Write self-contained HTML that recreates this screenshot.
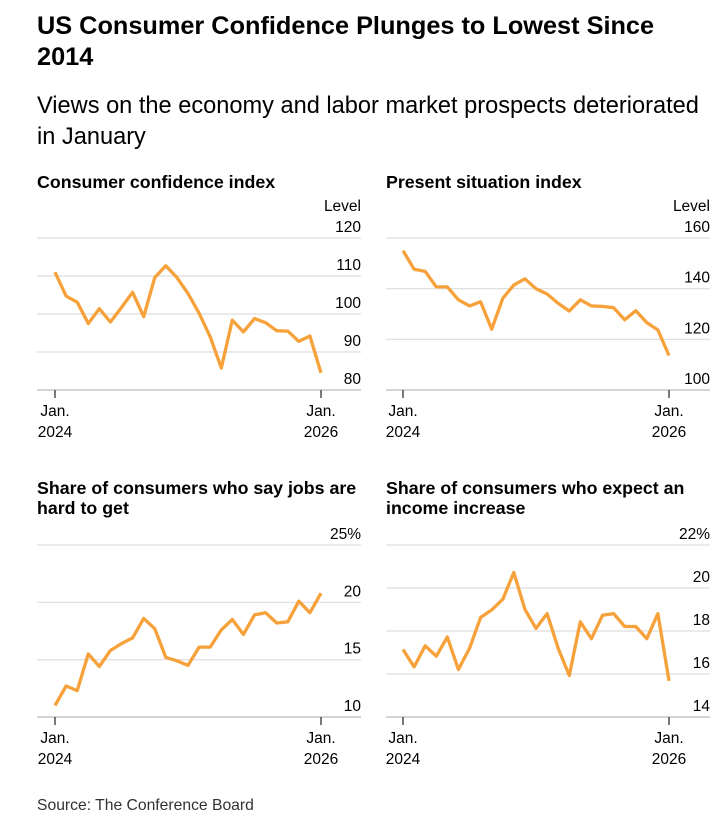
<!DOCTYPE html>
<html><head><meta charset="utf-8"><style>
body{margin:0;background:#fff;width:721px;height:834px;overflow:hidden;font-family:"Liberation Sans",sans-serif;color:#000}
svg{position:absolute;left:0;top:0}
</style></head><body>
<svg width="721" height="834" font-family="Liberation Sans, sans-serif">
<text x="37" y="34" font-size="25.3" font-weight="bold">US Consumer Confidence Plunges to Lowest Since</text>
<text x="37" y="65" font-size="25.3" font-weight="bold">2014</text>
<text x="37" y="113" font-size="23.6">Views on the economy and labor market prospects deteriorated</text>
<text x="37" y="144" font-size="23.6">in January</text>
<text x="37" y="810" font-size="15.7" fill="#333">Source: The Conference Board</text>
<g id="charts"></g>
</svg>
<script>
const ccValues=[111.0,104.7,103.1,97.5,101.4,97.9,101.7,105.7,99.3,109.6,112.7,109.6,105.4,100.2,94.0,85.8,98.4,95.3,98.8,97.7,95.6,95.5,92.8,94.2,84.5];
const ccTicks=[80,90,100,110,120];
const psValues=[155.0,147.7,146.8,140.7,140.7,135.6,133.2,134.8,124.0,136.2,141.4,143.9,140.0,137.9,134.2,131.2,135.6,133.2,133.0,132.5,127.7,131.3,126.6,123.7,113.6];
const psTicks=[100,120,140,160];
const jobsValues=[11.0,12.7,12.3,15.5,14.4,15.8,16.4,16.9,18.6,17.7,15.2,14.9,14.5,16.1,16.1,17.6,18.5,17.2,18.9,19.1,18.2,18.3,20.1,19.1,20.8];
const jobsTicks=[10,15,20,25];
const incValues=[17.14,16.33,17.31,16.83,17.72,16.21,17.19,18.63,18.98,19.48,20.72,19.01,18.12,18.81,17.19,15.93,18.43,17.64,18.73,18.81,18.21,18.21,17.64,18.81,15.68];
const incTicks=[14,16,18,20,22];
const xLabels=[["Jan.","2024"],["Jan.","2026"]];
const NS="http://www.w3.org/2000/svg";
const root=document.getElementById('charts');
function mk(tag,attrs,parent){const e=document.createElementNS(NS,tag);for(const k in attrs)e.setAttribute(k,attrs[k]);parent.appendChild(e);return e;}
function chart(cfg){
  const g=mk('g',{},root);
  
  
  cfg.title.forEach((t,i)=>{const e=mk('text',{x:cfg.gx0,y:cfg.titleY+i*20,'font-size':17.8,'font-weight':'bold'},g);e.textContent=t;
    
    });
  const ticks=cfg.ticks,lo=ticks[0],hi=ticks[ticks.length-1];
  const y=v=>cfg.yBot-(v-lo)/(hi-lo)*(cfg.yBot-cfg.yTop);
  const n=cfg.values.length;
  const x=i=>cfg.xa+(cfg.xb-cfg.xa)*i/(n-1);
  if(cfg.unit){const u=mk('text',{x:cfg.gx1,y:y(hi)-27,'font-size':15.5,'text-anchor':'end'},g);u.textContent=cfg.unit;
    
    }
  ticks.forEach((t,i)=>{
    const l=mk('line',{x1:cfg.gx0,x2:cfg.gx1,y1:y(t),y2:y(t),stroke:i==0?'#bbb':'#ddd','stroke-width':1.2},g);
    
    
    const tx=mk('text',{x:cfg.gx1,y:y(t)-6,'font-size':15.5,'text-anchor':'end'},g);
    tx.textContent=t+(i==ticks.length-1&&cfg.pct?'%':'');
    
    
  });
  [0,n-1].forEach((idx,k)=>{
    const tl=mk('line',{x1:x(idx),x2:x(idx),y1:cfg.yBot,y2:cfg.yBot+8,stroke:'#333','stroke-width':1.3},g);
    
    
    xLabels[k].forEach((s,j)=>{const e=mk('text',{x:x(idx),y:cfg.yBot+26+j*21,'font-size':15.5,'text-anchor':'middle'},g);e.textContent=s;
      
      });
  });
  const p=mk('polyline',{points:cfg.values.map((v,i)=>x(i).toFixed(1)+','+y(v).toFixed(1)).join(' '),fill:'none',stroke:'#f6a13a','stroke-width':3.3,'stroke-linejoin':'round'},g);
  
  
}
chart({name:'consumer-confidence-panel',title:['Consumer confidence index'],titleY:188,values:ccValues,ticks:ccTicks,unit:'Level',gx0:37,gx1:361,xa:55,xb:321,yTop:238,yBot:390});
chart({name:'present-situation-panel',title:['Present situation index'],titleY:188,values:psValues,ticks:psTicks,unit:'Level',gx0:386,gx1:710,xa:403,xb:669,yTop:238,yBot:390});
chart({name:'jobs-hard-to-get-panel',title:['Share of consumers who say jobs are','hard to get'],titleY:494,values:jobsValues,ticks:jobsTicks,pct:true,gx0:37,gx1:361,xa:55,xb:321,yTop:545,yBot:717});
chart({name:'income-increase-panel',title:['Share of consumers who expect an','income increase'],titleY:494,values:incValues,ticks:incTicks,pct:true,gx0:386,gx1:710,xa:403,xb:669,yTop:545,yBot:717});
</script>
</body></html>
